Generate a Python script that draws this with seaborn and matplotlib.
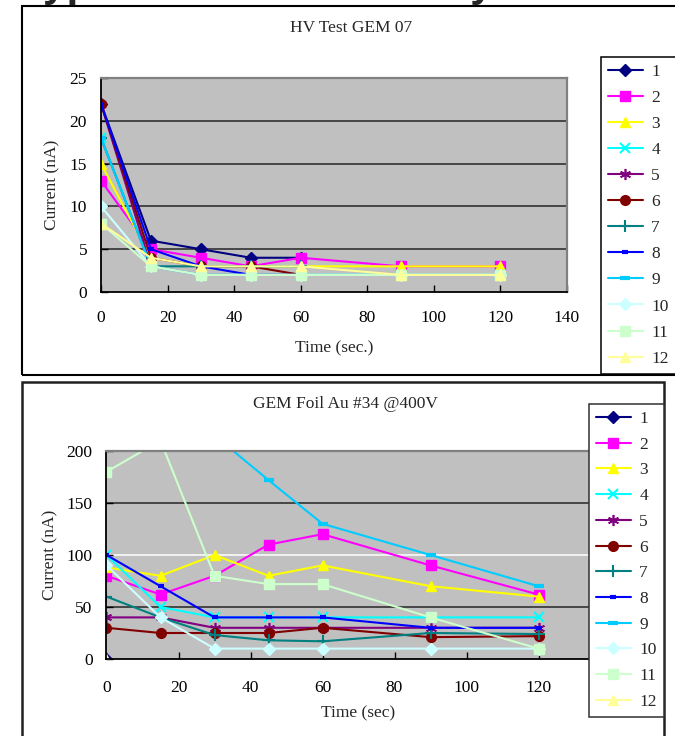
import numpy as np
import pandas as pd
import matplotlib
matplotlib.use("Agg")
import matplotlib.pyplot as plt
from matplotlib.patches import Rectangle
import seaborn as sns

nan = np.nan

# Sampling times (s)
time_s = [0, 15, 30, 45, 60, 90, 120]
series_names = ["1", "2", "3", "4", "5", "6", "7", "8", "9", "10", "11", "12"]

# HV Test GEM 07 : leakage current (nA) per channel
gem07_1 = [22, 6, 5, 4, 4, nan, nan]
gem07_2 = [13, 5, 4, 3, 4, 3, 3]
gem07_3 = [15, 4, 3, 3, 3, 3, 3]
gem07_4 = [18, 3, 2, 2, 2, 2, 2]
gem07_5 = [22, 3, 2, 2, 2, nan, nan]
gem07_6 = [22, 4, 3, 3, 2, nan, nan]
gem07_7 = [18, 3, 3, 3, 3, nan, nan]
gem07_8 = [22, 5, 3, 2, 2, nan, nan]
gem07_9 = [18, 3, 2, 2, 2, 2, 2]
gem07_10 = [10, 3, 2, 2, 2, 2, 2]
gem07_11 = [8, 3, 2, 2, 2, 2, 2]
gem07_12 = [8, 4, 3, 3, 3, 2, 2]

# GEM Foil Au #34 @400V : leakage current (nA) per channel
foil34_1 = [0, nan, nan, nan, nan, nan, nan]
foil34_2 = [80, 62, 80, 110, 120, 90, 62]
foil34_3 = [88, 80, 100, 80, 90, 70, 60]
foil34_4 = [100, 50, 40, 40, 40, 40, 40]
foil34_5 = [40, 40, 30, 30, 30, 30, 30]
foil34_6 = [30, 25, 25, 25, 30, 21, 22]
foil34_7 = [60, 40, 23, 18, 17, 25, 24]
foil34_8 = [100, 70, 40, 40, 40, 30, 30]
foil34_9 = [nan, nan, 215, 172, 130, 100, 70]
foil34_10 = [90, 40, 10, 10, 10, 10, 10]
foil34_11 = [180, 210, 80, 72, 72, 40, 10]
foil34_12 = [0, nan, nan, nan, nan, nan, nan]

gem07 = [gem07_1, gem07_2, gem07_3, gem07_4, gem07_5, gem07_6,
         gem07_7, gem07_8, gem07_9, gem07_10, gem07_11, gem07_12]
foil34 = [foil34_1, foil34_2, foil34_3, foil34_4, foil34_5, foil34_6,
          foil34_7, foil34_8, foil34_9, foil34_10, foil34_11, foil34_12]

colors = ["#000080", "#FF00FF", "#FFFF00", "#00FFFF", "#800080", "#800000",
          "#008080", "#0000FF", "#00CCFF", "#CCFFFF", "#CCFFCC", "#FFFF99"]
markers = ["D", "s", "^", "x", (6, 2, 0), "o", "+", "_", "_", "D", "s", "^"]
msizes = [6.5, 7, 7.5, 7, 8, 7, 8, 5, 7, 6.5, 7, 7.5]
mews = [1, 1, 1, 1.5, 1.2, 1, 1.5, 3, 3, 1, 1, 1]


def long_table(values):
    rows = []
    for name, vals in zip(series_names, values):
        for t, v in zip(time_s, vals):
            rows.append({"time": t, "current": v, "series": name})
    return pd.DataFrame(rows).dropna()


W, H = 675, 736
sns.set_theme(style="white")
plt.rcParams["font.family"] = ["Liberation Serif", "DejaVu Serif"]
plt.rcParams["font.size"] = 12

fig = plt.figure(figsize=(W / 100, H / 100), dpi=100)


def px_axes(x0, y0, x1, y1):
    return fig.add_axes([x0 / W, 1 - y1 / H, (x1 - x0) / W, (y1 - y0) / H])


def fx(px):
    return px / W


def fy(py):
    return 1 - py / H


def draw_panel(ax, values, xmax, ymax, ystep, xpad, white_lines=()):
    df = long_table(values)
    ax.set_facecolor("#C0C0C0")
    for i, name in enumerate(series_names):
        sub = df[df["series"] == name]
        sns.lineplot(data=sub, x="time", y="current", ax=ax, color=colors[i],
                     marker=markers[i], markersize=msizes[i], markeredgewidth=mews[i],
                     markeredgecolor=colors[i], markerfacecolor=colors[i],
                     linewidth=1.5, estimator=None, sort=False, label=name)
    ax.set_xlim(0, xmax)
    ax.set_ylim(0, ymax)
    ax.set_xticks(np.arange(0, xmax + 1, 20))
    yt = np.arange(0, ymax + 1, ystep)
    ax.set_yticks(yt)
    for v in yt[1:-1]:
        ax.axhline(v, color="white" if v in white_lines else "#262626",
                   lw=1.1, zorder=0.5)
    for s in ("left", "bottom"):
        ax.spines[s].set_color("black")
        ax.spines[s].set_linewidth(1.3)
    for s in ("top", "right"):
        ax.spines[s].set_color("#808080")
        ax.spines[s].set_linewidth(1.6)
    ax.tick_params(axis="x", direction="in", length=5, width=1, colors="black",
                   pad=xpad, labelsize=12.5, bottom=True)
    ax.tick_params(axis="y", direction="in", length=5, width=1, colors="black",
                   pad=10, labelsize=12.5, left=True)
    ax.set_xlabel("")
    ax.set_ylabel("")
    handles, labels = ax.get_legend_handles_labels()
    ax.get_legend().remove()
    return handles, labels


# Chart frames
fig.add_artist(Rectangle((fx(22), fy(375)), fx(690) - fx(22), fy(6) - fy(375),
                         transform=fig.transFigure, fill=False, edgecolor="black", lw=1.5))
fig.add_artist(Rectangle((fx(22), fy(760)), fx(664) - fx(22), fy(382) - fy(760),
                         transform=fig.transFigure, fill=False, edgecolor="#202020", lw=1.8))

# Slide heading running above the charts (only its descenders reach the page)
fig.text(fx(20), fy(-4), "Typical current stability", fontsize=30.5, fontweight="bold",
         family=["Liberation Sans", "DejaVu Sans"], ha="left", va="baseline")

# Upper chart
ax1 = px_axes(101, 78, 567, 292)
h1, l1 = draw_panel(ax1, gem07, 140, 25, 5, xpad=13)
fig.text(fx(351), fy(28), "HV Test GEM 07", ha="center", va="center", fontsize=12.5)
fig.text(fx(52), fy(185), "Current (nA)", ha="center", va="center", rotation=90, fontsize=12.5)
fig.text(fx(334), fy(348), "Time (sec.)", ha="center", va="center", fontsize=12.5)
fig.legend(h1, l1, loc="upper left", bbox_to_anchor=(fx(601), fy(57)), frameon=True,
           fancybox=False, edgecolor="black", framealpha=1, fontsize=12.5,
           handlelength=2.0, handletextpad=0.5, labelspacing=0.57, borderpad=0.4,
           borderaxespad=0).get_frame().set_linewidth(1.1)

# Lower chart
ax2 = px_axes(106.5, 451, 610.5, 659)
h2, l2 = draw_panel(ax2, foil34, 140, 200, 50, xpad=15, white_lines=(100,))
fig.text(fx(345), fy(404), "GEM Foil Au #34 @400V", ha="center", va="center", fontsize=12.5)
fig.text(fx(50), fy(555), "Current (nA)", ha="center", va="center", rotation=90, fontsize=12.5)
fig.text(fx(358), fy(713), "Time (sec)", ha="center", va="center", fontsize=12.5)
fig.legend(h2, l2, loc="upper left", bbox_to_anchor=(fx(589), fy(404)), frameon=True,
           fancybox=False, edgecolor="#303030", framealpha=1, fontsize=12.5,
           handlelength=2.0, handletextpad=0.5, labelspacing=0.55, borderpad=0.4,
           borderaxespad=0).get_frame().set_linewidth(1.1)

fig.savefig("out.png", dpi=100)
